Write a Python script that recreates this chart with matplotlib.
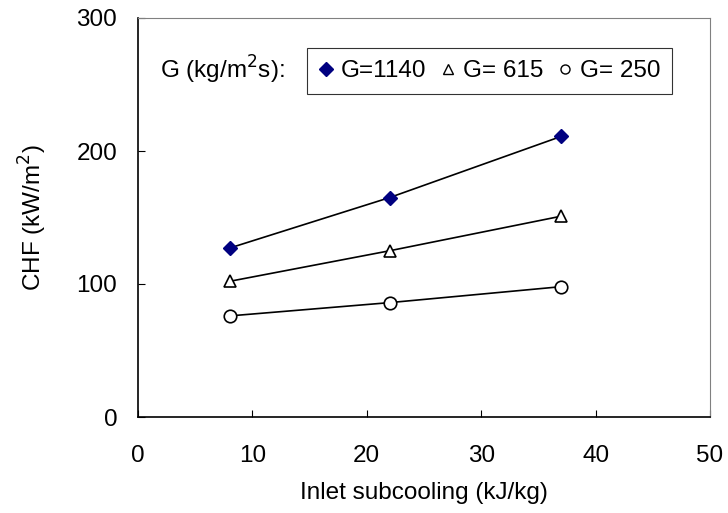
import matplotlib
matplotlib.use('Agg')
import matplotlib.pyplot as plt
from matplotlib.lines import Line2D

plt.rcParams['font.family'] = ['Liberation Sans', 'DejaVu Sans']

# Data
subcooling = [8, 22, 37]
chf_1140 = [127, 165, 211]
chf_615 = [102, 125, 151]
chf_250 = [76, 86, 98]

FS = 17.5

fig = plt.figure(figsize=(7.28, 5.13), dpi=100)
ax = fig.add_axes([138 / 728, 1 - 417 / 513, 572 / 728, 399 / 513])

ax.plot(subcooling, chf_1140, '-', color='black', lw=1.2, marker='D', ms=7,
        mfc='#000080', mec='#000080', zorder=3)
ax.plot(subcooling, chf_615, '-', color='black', lw=1.2, marker='^', ms=9,
        mfc='white', mec='black', mew=1.2, zorder=3)
ax.plot(subcooling, chf_250, '-', color='black', lw=1.2, marker='o', ms=9,
        mfc='white', mec='black', mew=1.2, zorder=3)

ax.set_xlim(0, 50)
ax.set_ylim(0, 300)
ax.set_xticks([0, 10, 20, 30, 40, 50])
ax.set_yticks([0, 100, 200, 300])
ax.tick_params(direction='in', length=5, labelsize=FS, color='black')
ax.xaxis.set_tick_params(pad=20)
ax.yaxis.set_tick_params(pad=15)
for s in ['top', 'right']:
    ax.spines[s].set_color('#808080')
for s in ['left', 'bottom']:
    ax.spines[s].set_color('black')
    ax.spines[s].set_linewidth(1.2)

ax.set_xlabel('Inlet subcooling (kJ/kg)', fontsize=FS, labelpad=11)
ax.set_ylabel('CHF (kW/m$^2$)', fontsize=FS, labelpad=20)

handles = [
    Line2D([], [], ls='none', marker='D', ms=7, mfc='#000080', mec='#000080'),
    Line2D([], [], ls='none', marker='^', ms=7, mfc='white', mec='black'),
    Line2D([], [], ls='none', marker='o', ms=6.5, mfc='white', mec='black'),
]
labels = ['G=1140', 'G= 615', 'G= 250']
leg = ax.legend(handles, labels, ncol=3, loc='upper left',
                bbox_to_anchor=((307 - 138) / 572, 1 - 30 / 399),
                fontsize=FS, frameon=True, fancybox=False, edgecolor='black',
                handlelength=0.6, handletextpad=0.3, columnspacing=0.6,
                borderpad=0.5, borderaxespad=0)
leg.get_frame().set_linewidth(0.8)

ax.text((160 - 138) / 572, 1 - 52 / 399, 'G (kg/m$^2$s):', transform=ax.transAxes,
        fontsize=FS, va='center', ha='left')

fig.savefig('out.png', dpi=100)
